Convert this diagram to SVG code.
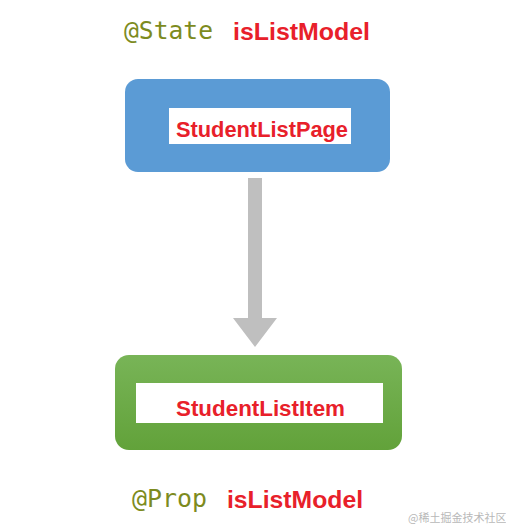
<svg xmlns="http://www.w3.org/2000/svg" width="506" height="526" viewBox="0 0 506 526">
<defs>
<style>
.deco{font-family:"DejaVu Sans Mono","Liberation Mono",monospace;font-size:24px;fill:#7d8b1e}
.var{font-family:"Liberation Sans",Arial,sans-serif;font-weight:bold;font-size:24px;fill:#e8202a}
.lbl{font-family:"Liberation Sans",Arial,sans-serif;font-weight:bold;font-size:22px;fill:#e8202a;text-anchor:middle}
.wm{font-family:"Noto Sans CJK SC",sans-serif;font-size:11px;fill:#b8b8b8}
</style>
<linearGradient id="gg" x1="0" y1="0" x2="0" y2="1">
<stop offset="0" stop-color="#78b457"/>
<stop offset="1" stop-color="#62a23a"/>
</linearGradient>
</defs>
<rect width="506" height="526" fill="#ffffff"/>
<text class="deco" x="124" y="39" textLength="89" lengthAdjust="spacingAndGlyphs">@State</text>
<text class="var" x="233" y="40" textLength="137" lengthAdjust="spacingAndGlyphs">isListModel</text>
<g id="connectors">
<polygon points="248,178 262,178 262,318 277,318 255,347 233,318 248,318" fill="#bfbfbf"/>
</g>
<g id="StudentListPage">
<rect x="125" y="79" width="265" height="93" rx="13" fill="#5b9bd5"/>
<rect x="169" y="108" width="182" height="36" fill="#ffffff"/>
<text class="lbl" x="262" y="137" textLength="172" lengthAdjust="spacingAndGlyphs">StudentListPage</text>
</g>
<g id="StudentListItem">
<rect x="115" y="355" width="287" height="95" rx="14" fill="url(#gg)"/>
<rect x="136" y="383" width="247" height="40" fill="#ffffff"/>
<text class="lbl" x="260.5" y="416" textLength="169" lengthAdjust="spacingAndGlyphs">StudentListItem</text>
</g>
<text class="deco" x="132" y="507" textLength="75" lengthAdjust="spacingAndGlyphs">@Prop</text>
<text class="var" x="227" y="508" textLength="136" lengthAdjust="spacingAndGlyphs">isListModel</text>
<text class="wm" x="408" y="522">@稀土掘金技术社区</text>
</svg>
